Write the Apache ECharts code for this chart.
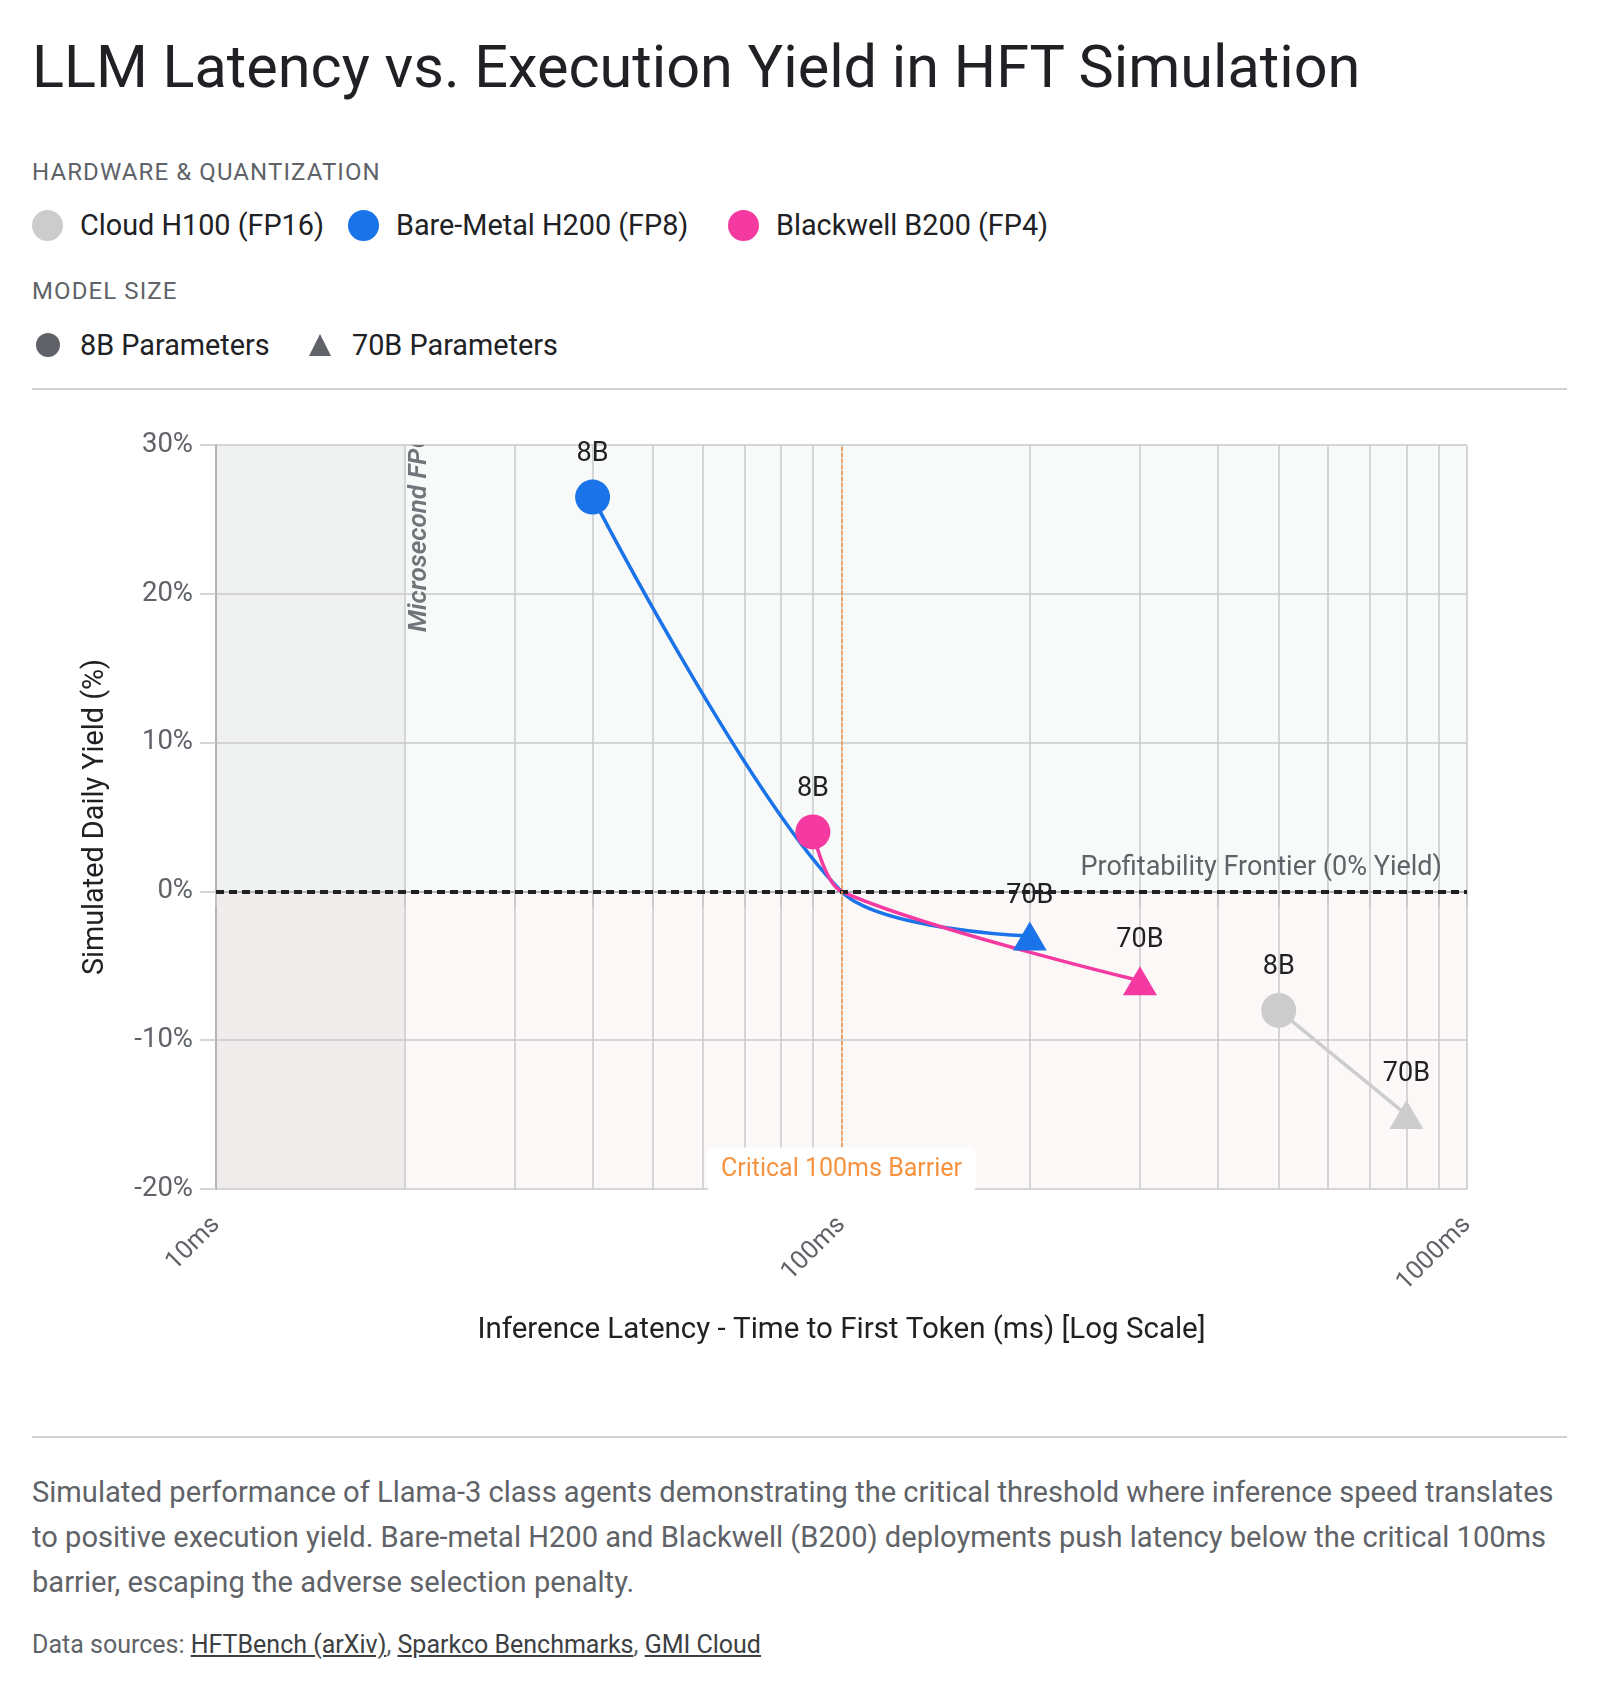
<!DOCTYPE html>
<html>
<head>
<meta charset="utf-8">
<title>LLM Latency vs. Execution Yield in HFT Simulation</title>
<script src="https://cdn.jsdelivr.net/npm/echarts@6/dist/echarts.min.js"></script>
<style>
  body { margin: 0; background: #fff; font-family: Roboto, sans-serif; }
  #page { position: relative; width: 1600px; height: 1694px; overflow: hidden; }
  .abs { position: absolute; white-space: nowrap; }
  .title { left: 32px; top: 37px; font-size: 59.4px; line-height: 60px; color: #202124; }
  .section { left: 32px; font-size: 24px; line-height: 24px; letter-spacing: 1.1px; color: #5f6368; }
  .item { font-size: 28.8px; line-height: 28px; color: #202124; }
  .dot { position: absolute; border-radius: 50%; }
  .rule { position: absolute; left: 32px; width: 1535px; height: 2px; background: #d2d2d2; }
  .desc { left: 32px; top: 1470px; font-size: 29.1px; line-height: 45px; color: #5f6368; }
  .src { left: 32px; top: 1633px; font-size: 25px; line-height: 24px; color: #5f6368; }
  .src a { color: #3c4043; text-decoration: underline; }
  #chart { position: absolute; left: 0; top: 390px; width: 1600px; height: 1045px; }
</style>
</head>
<body>
<div id="page">
  <div class="abs title">LLM Latency vs. Execution Yield in HFT Simulation</div>

  <div class="abs section" style="top:160px">HARDWARE &amp; QUANTIZATION</div>
  <div class="dot" style="left:32px;top:210px;width:31px;height:31px;background:#cccccc"></div>
  <div class="abs item" style="left:80px;top:211px">Cloud H100 (FP16)</div>
  <div class="dot" style="left:348px;top:210px;width:31px;height:31px;background:#1a73e8"></div>
  <div class="abs item" style="left:396px;top:211px">Bare-Metal H200 (FP8)</div>
  <div class="dot" style="left:728px;top:210px;width:31px;height:31px;background:#f439a0"></div>
  <div class="abs item" style="left:776px;top:211px">Blackwell B200 (FP4)</div>

  <div class="abs section" style="top:279px">MODEL SIZE</div>
  <div class="dot" style="left:36px;top:333px;width:24px;height:24px;background:#5f6368"></div>
  <div class="abs item" style="left:80px;top:331px">8B Parameters</div>
  <svg style="position:absolute;left:308px;top:333px" width="24" height="24"><polygon points="12,1 23,23 1,23" fill="#5f6368"/></svg>
  <div class="abs item" style="left:352px;top:331px">70B Parameters</div>

  <div class="rule" style="top:388px"></div>

  <div id="chart"></div>

  <div class="rule" style="top:1436px"></div>

  <div class="abs desc">Simulated performance of Llama-3 class agents demonstrating the critical threshold where inference speed translates<br>to positive execution yield. Bare-metal H200 and Blackwell (B200) deployments push latency below the critical 100ms<br>barrier, escaping the adverse selection penalty.</div>
  <div class="abs src">Data sources: <a>HFTBench (arXiv)</a>, <a>Sparkco Benchmarks</a>, <a>GMI Cloud</a></div>
</div>

<script>
// hardware series
const hardware = ['Cloud H100 (FP16)', 'Bare-Metal H200 (FP8)', 'Blackwell B200 (FP4)'];
const hardwareColors = ['#cccccc', '#1a73e8', '#f439a0'];

// latency (ms), yield (%), model size  (null = breakeven point on the 100ms / 0% crossing)
const h100Latency = [500, 800];
const h100Yield = [-8, -15];
const h100Model = ['8B', '70B'];

const h200Latency = [40, 100, 200];
const h200Yield = [26.5, 0, -3];
const h200Model = ['8B', null, '70B'];

const b200Latency = [90, 100, 300];
const b200Yield = [4, 0, -6];
const b200Model = ['8B', null, '70B'];

// axes
const xLabelValues = [10, 100, 1000];
const xGridValues = [10, 20, 30, 40, 50, 60, 70, 80, 90, 100, 200, 300, 400, 500, 600, 700, 800, 900, 1000];
const yMin = -20, yMax = 30, yStep = 10;

// reference lines
const barrierLatency = 100;
const frontierYield = 0;
const fpgaEdge = 20;

// background zones: [latency from, latency to, yield from, yield to]
const zones = [
  [10, 20, 0, 30],
  [10, 20, -20, 0],
  [20, 1000, 0, 30],
  [20, 1000, -20, 0]
];
const zoneColors = ['#eff1f0', '#f1ecec', '#f8faf9', '#fdf8f8'];

const FONT = 'Roboto, sans-serif';

function buildData(lat, yld, model) {
  return lat.map((x, i) => ({
    value: [x, yld[i]],
    symbol: model[i] === '8B' ? 'circle' : (model[i] === '70B' ? 'triangle' : 'none'),
    symbolSize: model[i] === '70B' ? [34, 29] : 35,
    label: { show: model[i] != null, formatter: model[i] || '' }
  }));
}

function lineSeries(idx, lat, yld, model, smooth) {
  return {
    name: hardware[idx],
    type: 'line',
    data: buildData(lat, yld, model),
    smooth: smooth,
    lineStyle: { color: hardwareColors[idx], width: 3.5 },
    itemStyle: { color: hardwareColors[idx] },
    label: { position: 'top', distance: 12, color: '#202124', fontSize: 27, fontFamily: FONT },
    emphasis: { disabled: true },
    z: 4
  };
}

const chart = echarts.init(document.getElementById('chart'));

chart.setOption({
  animation: false,
  grid: { left: 216, right: 133, top: 55, bottom: 246 },
  xAxis: {
    type: 'log',
    logBase: 10,
    min: 10,
    max: 1000,
    name: 'Inference Latency - Time to First Token (ms) [Log Scale]',
    nameLocation: 'middle',
    nameGap: 127,
    nameTextStyle: { fontSize: 29.5, color: '#202124', fontFamily: FONT },
    axisLine: { show: true, lineStyle: { color: '#b4b4b4', width: 2 } },
    axisTick: { show: true, length: 15, customValues: xGridValues, lineStyle: { color: '#c8c8c8', width: 1.5 } },
    axisLabel: {
      customValues: xLabelValues,
      rotate: 45,
      margin: 32,
      fontSize: 25.5,
      color: '#5f6368',
      fontFamily: FONT,
      formatter: v => v + 'ms'
    },
    splitLine: { show: true, lineStyle: { color: '#c8c8c8', width: 1.5 } }
  },
  yAxis: {
    type: 'value',
    min: yMin,
    max: yMax,
    interval: yStep,
    name: 'Simulated Daily Yield (%)',
    nameLocation: 'middle',
    nameGap: 106,
    nameRotate: 90,
    nameTextStyle: { fontSize: 28.8, color: '#202124', fontFamily: FONT },
    axisLine: { show: true, lineStyle: { color: '#b4b4b4', width: 2 } },
    axisTick: { show: true, length: 16, lineStyle: { color: '#c8c8c8', width: 1.5 } },
    axisLabel: { formatter: '{value}%', fontSize: 27.5, color: '#5f6368', margin: 23, fontFamily: FONT },
    splitLine: { show: true, lineStyle: { color: '#c8c8c8', width: 1.5 } }
  },
  series: [
    {
      type: 'custom',
      z: -1,
      silent: true,
      clip: true,
      data: zones,
      encode: { x: [0, 1], y: [2, 3] },
      renderItem: (params, api) => {
        const p0 = api.coord([api.value(0), api.value(3)]);
        const p1 = api.coord([api.value(1), api.value(2)]);
        return {
          type: 'rect',
          shape: { x: p0[0], y: p0[1], width: p1[0] - p0[0], height: p1[1] - p0[1] },
          style: { fill: zoneColors[params.dataIndex] }
        };
      }
    },
    {
      type: 'custom',
      z: 3,
      silent: true,
      clip: true,
      data: [[fpgaEdge, yMax]],
      renderItem: (params, api) => {
        const p = api.coord([api.value(0), api.value(1)]);
        return {
          type: 'text',
          x: p[0] + 15,
          y: p[1] + 187,
          rotation: Math.PI / 2,
          style: {
            text: 'Microsecond FPGA Zone',
            fill: '#70757a',
            font: 'italic 600 26px Roboto',
            align: 'left',
            verticalAlign: 'middle'
          }
        };
      }
    },
    lineSeries(0, h100Latency, h100Yield, h100Model, false),
    Object.assign(lineSeries(1, h200Latency, h200Yield, h200Model, 0.3), {
      markLine: {
        silent: true,
        symbol: 'none',
        data: [
          {
            yAxis: frontierYield,
            lineStyle: { color: '#202124', width: 4, type: [8, 5] },
            label: {
              show: true,
              position: 'insideEndTop',
              distance: [25, 10],
              formatter: 'Profitability Frontier (0% Yield)',
              color: '#5f6368',
              fontSize: 27,
              fontFamily: FONT
            }
          },
          {
            xAxis: barrierLatency,
            lineStyle: { color: '#f39445', width: 1.5, type: [4, 2] },
            label: { show: false }
          }
        ]
      },
      markPoint: {
        silent: true,
        symbol: 'rect',
        symbolSize: 0,
        data: [{ coord: [barrierLatency, yMin] }],
        label: {
          show: true,
          position: 'inside',
          offset: [0, -19],
          formatter: 'Critical 100ms Barrier',
          color: '#f7923f',
          fontSize: 25,
          fontFamily: FONT,
          backgroundColor: '#ffffff',
          borderRadius: 7,
          padding: [10, 14]
        }
      }
    }),
    lineSeries(2, b200Latency, b200Yield, b200Model, 0.3)
  ]
});
</script>
</body>
</html>
